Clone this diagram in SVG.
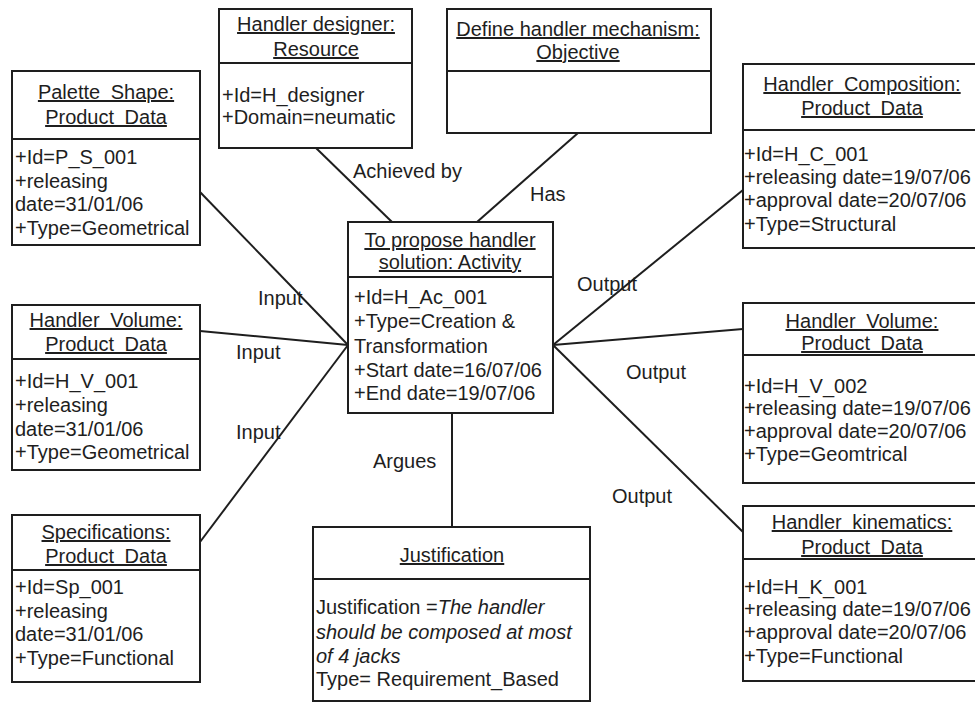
<svg xmlns="http://www.w3.org/2000/svg" width="975" height="704" viewBox="0 0 975 704">
  <style>
    .box { fill: #ffffff; stroke: #1e1e1e; stroke-width: 2; }
    .div { stroke: #1e1e1e; stroke-width: 2; }
    .conn line { stroke: #1e1e1e; stroke-width: 2; }
    text { font-family: "Liberation Sans", Arial, sans-serif; font-size: 20px; fill: #1e1e1e; }
    .title { text-anchor: middle; text-decoration: underline; }
    .wide { word-spacing: 5px; }
    .it { font-style: italic; }
  </style>
  <rect width="975" height="704" fill="#ffffff"/>

  <!-- associations between the activity and its related elements -->
  <g id="connectors" class="conn">
    <line x1="200" y1="192" x2="348" y2="345"/>
    <line x1="200" y1="331" x2="348" y2="345"/>
    <line x1="200" y1="542" x2="348" y2="345"/>
    <line x1="316" y1="148" x2="392" y2="222"/>
    <line x1="578" y1="133" x2="477" y2="222"/>
    <line x1="553" y1="345" x2="743" y2="190"/>
    <line x1="553" y1="345" x2="743" y2="329"/>
    <line x1="553" y1="345" x2="743" y2="532"/>
    <line x1="452" y1="413" x2="452" y2="527"/>
    <text x="258" y="305">Input</text>
    <text x="236" y="359">Input</text>
    <text x="236" y="439">Input</text>
    <text x="353" y="178">Achieved by</text>
    <text x="530" y="201">Has</text>
    <text x="577" y="291">Output</text>
    <text x="626" y="379">Output</text>
    <text x="612" y="503">Output</text>
    <text x="373" y="468">Argues</text>
  </g>

  <g id="palette-shape">
    <rect class="box" x="12" y="71" width="188" height="174"/>
    <line class="div" x1="12" y1="139" x2="200" y2="139"/>
    <text class="title wide" x="106" y="99">Palette Shape:</text>
    <text class="title wide" x="106" y="124">Product Data</text>
    <text x="15" y="164">+Id=P_S_001</text>
    <text x="15" y="188">+releasing</text>
    <text x="15" y="211">date=31/01/06</text>
    <text x="15" y="235">+Type=Geometrical</text>
  </g>

  <g id="handler-volume-in">
    <rect class="box" x="12" y="305" width="188" height="165"/>
    <line class="div" x1="12" y1="359" x2="200" y2="359"/>
    <text class="title wide" x="106" y="327">Handler Volume:</text>
    <text class="title wide" x="106" y="351">Product Data</text>
    <text x="15" y="388">+Id=H_V_001</text>
    <text x="15" y="412">+releasing</text>
    <text x="15" y="436">date=31/01/06</text>
    <text x="15" y="459">+Type=Geometrical</text>
  </g>

  <g id="specifications">
    <rect class="box" x="12" y="515" width="188" height="167"/>
    <line class="div" x1="12" y1="570" x2="200" y2="570"/>
    <text class="title" x="106" y="539">Specifications:</text>
    <text class="title wide" x="106" y="563">Product Data</text>
    <text x="15" y="594">+Id=Sp_001</text>
    <text x="15" y="618">+releasing</text>
    <text x="15" y="641">date=31/01/06</text>
    <text x="15" y="665">+Type=Functional</text>
  </g>

  <g id="handler-designer">
    <rect class="box" x="219" y="9" width="193" height="139"/>
    <line class="div" x1="219" y1="63" x2="412" y2="63"/>
    <text class="title" x="316" y="31">Handler designer:</text>
    <text class="title" x="316" y="56">Resource</text>
    <text x="222" y="102">+Id=H_designer</text>
    <text x="222" y="124">+Domain=neumatic</text>
  </g>

  <g id="objective">
    <rect class="box" x="447" y="9" width="264" height="124"/>
    <line class="div" x1="447" y1="71" x2="711" y2="71"/>
    <text class="title" x="578" y="36">Define handler mechanism:</text>
    <text class="title" x="578" y="59">Objective</text>
  </g>

  <g id="activity">
    <rect class="box" x="348" y="222" width="205" height="191"/>
    <line class="div" x1="348" y1="277" x2="553" y2="277"/>
    <text class="title" x="450" y="247">To propose handler</text>
    <text class="title" x="450" y="269">solution: Activity</text>
    <text x="354" y="304">+Id=H_Ac_001</text>
    <text x="354" y="328">+Type=Creation &amp;</text>
    <text x="354" y="353">Transformation</text>
    <text x="354" y="377">+Start date=16/07/06</text>
    <text x="354" y="400">+End date=19/07/06</text>
  </g>

  <g id="justification">
    <rect class="box" x="313" y="527" width="277" height="174"/>
    <line class="div" x1="313" y1="579" x2="590" y2="579"/>
    <text class="title" x="452" y="562">Justification</text>
    <text x="316" y="614">Justification =<tspan class="it">The handler</tspan></text>
    <text class="it" x="316" y="639">should be composed at most</text>
    <text class="it" x="316" y="663">of 4 jacks</text>
    <text x="316" y="686">Type= Requirement_Based</text>
  </g>

  <g id="handler-composition">
    <rect class="box" x="743" y="64" width="240" height="184"/>
    <line class="div" x1="743" y1="130" x2="983" y2="130"/>
    <text class="title wide" x="862" y="91">Handler Composition:</text>
    <text class="title wide" x="862" y="115">Product Data</text>
    <text x="744" y="161">+Id=H_C_001</text>
    <text x="744" y="184">+releasing date=19/07/06</text>
    <text x="744" y="207">+approval date=20/07/06</text>
    <text x="744" y="231">+Type=Structural</text>
  </g>

  <g id="handler-volume-out">
    <rect class="box" x="743" y="303" width="240" height="180"/>
    <line class="div" x1="743" y1="355" x2="983" y2="355"/>
    <text class="title wide" x="862" y="328">Handler Volume:</text>
    <text class="title wide" x="862" y="350">Product Data</text>
    <text x="744" y="393">+Id=H_V_002</text>
    <text x="744" y="415">+releasing date=19/07/06</text>
    <text x="744" y="438">+approval date=20/07/06</text>
    <text x="744" y="461">+Type=Geomtrical</text>
  </g>

  <g id="handler-kinematics">
    <rect class="box" x="743" y="506" width="240" height="175"/>
    <line class="div" x1="743" y1="559" x2="983" y2="559"/>
    <text class="title wide" x="862" y="529">Handler kinematics:</text>
    <text class="title wide" x="862" y="554">Product Data</text>
    <text x="744" y="594">+Id=H_K_001</text>
    <text x="744" y="616">+releasing date=19/07/06</text>
    <text x="744" y="639">+approval date=20/07/06</text>
    <text x="744" y="663">+Type=Functional</text>
  </g>
</svg>
